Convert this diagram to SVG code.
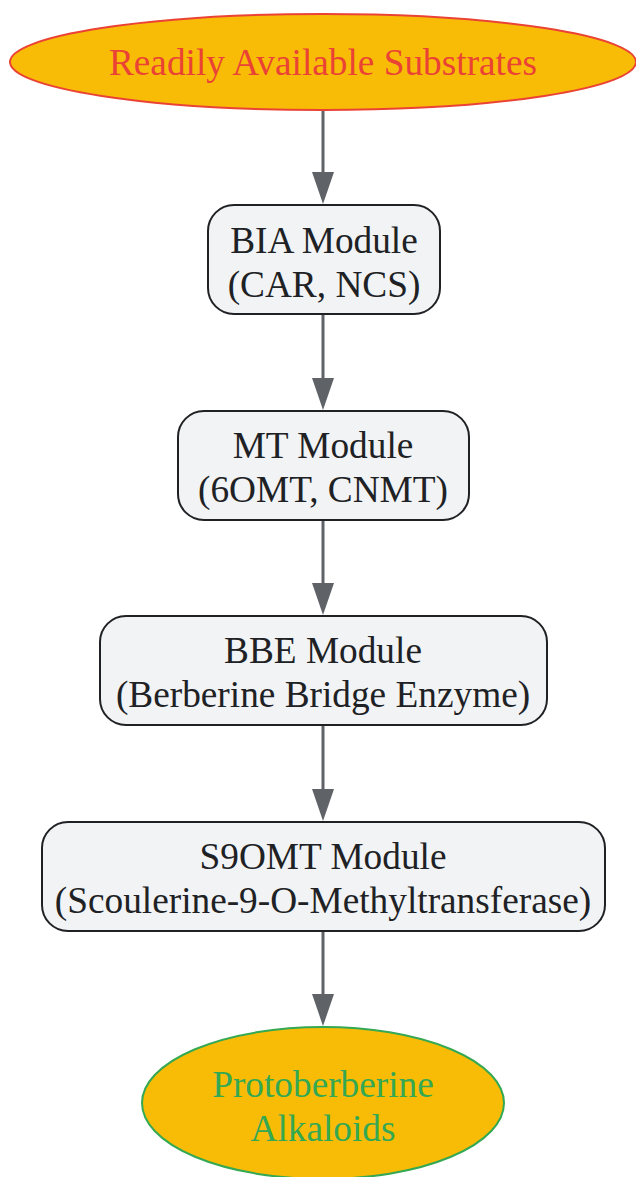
<svg xmlns="http://www.w3.org/2000/svg" width="636" height="1177" viewBox="0 0 636 1177">
<style>
.box{fill:#f1f3f4;stroke:#202124;stroke-width:2}
.t{font-family:"Liberation Serif",serif;font-size:37.3px;text-anchor:middle;fill:#202124}
.edge{stroke:#5f6368;stroke-width:3;fill:none}
.head{fill:#5f6368}
</style>
<g id="connectors">
<line class="edge" x1="323" y1="110" x2="323" y2="176"/>
<path class="head" d="M312,172 L334,172 L323,204 z"/>
<line class="edge" x1="323" y1="315" x2="323" y2="382"/>
<path class="head" d="M312,378 L334,378 L323,410 z"/>
<line class="edge" x1="323" y1="521" x2="323" y2="587"/>
<path class="head" d="M312,583 L334,583 L323,615 z"/>
<line class="edge" x1="323" y1="726" x2="323" y2="793"/>
<path class="head" d="M312,789 L334,789 L323,821 z"/>
<line class="edge" x1="323" y1="932" x2="323" y2="998"/>
<path class="head" d="M312,994 L334,994 L323,1026 z"/>
</g>
<g id="substrates">
<ellipse cx="323" cy="62" rx="313" ry="48" fill="#f9bc06" stroke="#ea4335" stroke-width="2"/>
<text class="t" x="323" y="75" style="fill:#ea4335">Readily Available Substrates</text>
</g>
<g id="bia">
<rect class="box" x="208" y="205" width="232" height="109" rx="26"/>
<text class="t" x="324" y="253">BIA Module</text>
<text class="t" x="324" y="297">(CAR, NCS)</text>
</g>
<g id="mt">
<rect class="box" x="178" y="411" width="291" height="109" rx="26"/>
<text class="t" x="323" y="458">MT Module</text>
<text class="t" x="323" y="502">(6OMT, CNMT)</text>
</g>
<g id="bbe">
<rect class="box" x="100" y="616" width="447" height="109" rx="26"/>
<text class="t" x="323" y="663">BBE Module</text>
<text class="t" x="323" y="707">(Berberine Bridge Enzyme)</text>
</g>
<g id="s9omt">
<rect class="box" x="42" y="822" width="563" height="109" rx="26"/>
<text class="t" x="323" y="869">S9OMT Module</text>
<text class="t" x="323" y="913">(Scoulerine-9-O-Methyltransferase)</text>
</g>
<g id="protoberberine">
<ellipse cx="323" cy="1103" rx="181" ry="76" fill="#f9bc06" stroke="#34a853" stroke-width="2"/>
<text class="t" x="323" y="1097" style="fill:#34a853">Protoberberine</text>
<text class="t" x="323" y="1141" style="fill:#34a853">Alkaloids</text>
</g>
</svg>
